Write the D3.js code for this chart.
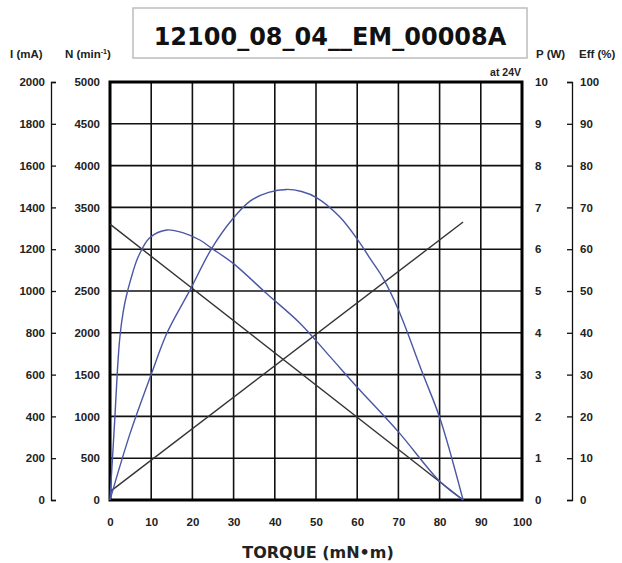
<!DOCTYPE html>
<html>
<head>
<meta charset="utf-8">
<script src="https://cdn.jsdelivr.net/npm/d3@7"></script>
<style>
  body { margin: 0; background: #fff; }
  .tick text { font-family: "Liberation Sans", Arial, sans-serif; font-weight: bold; font-size: 11.5px; fill: #222; }
  .hdr { font-family: "Liberation Sans", Arial, sans-serif; font-weight: bold; font-size: 11.5px; fill: #222; }
</style>
</head>
<body>
<div id="chart-area"></div>
<script>
// values
var title = "12100_08_04__EM_00008A";

var speedTorque = [0, 85.7];
var speedVals = [3300, 0];          // N (min-1)

var currentTorque = [0, 85.7];
var currentVals = [40, 1330];       // I (mA)

var powerTorque = [0, 4.9, 10.1, 13.8, 19.4, 24.7, 29.9, 34, 38.5, 42.9, 46.5, 50.2, 55.8, 60.3, 63.1, 66.3, 70, 76, 80.1, 85.7];
var powerVals   = [0, 1.6, 3.03, 3.99, 5.02, 6.02, 6.74, 7.15, 7.36, 7.43, 7.38, 7.23, 6.77, 6.2, 5.78, 5.3, 4.55, 3.0, 1.95, 0];

var effTorque = [0, 0.6, 1.2, 1.8, 2.4, 3.2, 3.9, 4.9, 6.9, 9.7, 13.8, 17.8, 21.8, 24.7, 29.9, 38, 46.1, 53.4, 59.9, 70, 80.1, 85.7];
var effVals   = [0, 10, 20, 31, 39, 45, 48.5, 52.3, 58.3, 62.8, 64.6, 63.9, 62.2, 60.2, 56.6, 49.4, 42.3, 34.3, 27.1, 16.3, 4.4, 0];

var torqueTicks = [0, 10, 20, 30, 40, 50, 60, 70, 80, 90, 100];

var W = 622, H = 563;
var plotL = 110, plotR = 522, plotT = 82, plotB = 500;

var svg = d3.select("#chart-area").append("svg")
    .attr("width", W)
    .attr("height", H);

// SCALES
var x = d3.scaleLinear().domain([0, 100]).range([plotL, plotR]);
var yN = d3.scaleLinear().domain([0, 5000]).range([plotB, plotT]);
var yI = d3.scaleLinear().domain([0, 2000]).range([plotB, plotT]);
var yP = d3.scaleLinear().domain([0, 10]).range([plotB, plotT]);
var yE = d3.scaleLinear().domain([0, 100]).range([plotB, plotT]);
var fmt = d3.format("d");

// title box
svg.append("rect")
    .attr("x", 133).attr("y", 8)
    .attr("width", 394).attr("height", 50)
    .attr("fill", "#fff")
    .attr("stroke", "#bdbdbd")
    .attr("stroke-width", 1.5);

svg.append("text")
    .attr("x", 330).attr("y", 45)
    .attr("text-anchor", "middle")
    .style("font-family", "'DejaVu Sans', Verdana, sans-serif")
    .style("font-weight", "bold")
    .style("font-size", "24px")
    .style("fill", "#111")
    .text(title);

// GRID
var grid = svg.append("g").attr("stroke", "#111").attr("stroke-width", 1.6);
grid.selectAll(".vline")
    .data(torqueTicks.slice(1, -1))
    .enter().append("line")
    .attr("x1", function(d) { return x(d); })
    .attr("x2", function(d) { return x(d); })
    .attr("y1", plotT).attr("y2", plotB);
grid.selectAll(".hline")
    .data(yN.ticks(10).slice(1, -1))
    .enter().append("line")
    .attr("x1", plotL).attr("x2", plotR)
    .attr("y1", function(d) { return yN(d); })
    .attr("y2", function(d) { return yN(d); });

svg.append("rect")
    .attr("x", plotL).attr("y", plotT)
    .attr("width", plotR - plotL).attr("height", plotB - plotT)
    .attr("fill", "none")
    .attr("stroke", "#000")
    .attr("stroke-width", 3);

// AXES
svg.append("g")
    .attr("transform", "translate(0," + (plotB + 12) + ")")
    .call(d3.axisBottom(x).tickValues(torqueTicks).tickFormat(fmt).tickSize(0).tickPadding(6))
    .call(function(g) { g.select(".domain").remove(); });

svg.append("g")
    .attr("transform", "translate(" + plotL + ",0)")
    .call(d3.axisLeft(yN).ticks(10).tickFormat(fmt).tickSize(0).tickPadding(10))
    .call(function(g) { g.select(".domain").remove(); });

svg.append("g")
    .attr("transform", "translate(51,0)")
    .call(d3.axisLeft(yI).ticks(10).tickFormat(fmt).tickSizeInner(-5).tickSizeOuter(-5).tickPadding(6))
    .call(function(g) { g.selectAll("path, line").attr("stroke", "#111").attr("stroke-width", 1.3); });

svg.append("g")
    .attr("transform", "translate(" + plotR + ",0)")
    .call(d3.axisRight(yP).ticks(10).tickFormat(fmt).tickSize(0).tickPadding(13))
    .call(function(g) { g.select(".domain").remove(); });

svg.append("g")
    .attr("transform", "translate(572,0)")
    .call(d3.axisRight(yE).ticks(10).tickFormat(fmt).tickSizeInner(-5).tickSizeOuter(-5).tickPadding(8))
    .call(function(g) { g.selectAll("path, line").attr("stroke", "#111").attr("stroke-width", 1.3); });

// headers
svg.append("text").attr("class", "hdr").attr("x", 10).attr("y", 58).text("I (mA)");
var nh = svg.append("text").attr("class", "hdr").attr("x", 65).attr("y", 58).text("N (min");
nh.append("tspan").attr("dy", -4).style("font-size", "7px").text("-1");
nh.append("tspan").attr("dy", 4).text(")");
svg.append("text").attr("class", "hdr").attr("x", 536).attr("y", 58).text("P (W)");
svg.append("text").attr("class", "hdr").attr("x", 579).attr("y", 58).text("Eff (%)");
svg.append("text").attr("class", "hdr").attr("x", 521).attr("y", 76)
    .attr("text-anchor", "end").style("font-size", "10.5px").text("at 24V");

svg.append("text")
    .attr("x", 318).attr("y", 558)
    .attr("text-anchor", "middle")
    .style("font-family", "'DejaVu Sans', Verdana, sans-serif")
    .style("font-weight", "bold")
    .style("font-size", "16px")
    .style("fill", "#222")
    .text("TORQUE (mN\u2022m)");

// LINES
function pairs(xs, ys) {
    return xs.map(function(d, i) { return [d, ys[i]]; });
}

var lineN = d3.line().x(function(d) { return x(d[0]); }).y(function(d) { return yN(d[1]); });
var lineI = d3.line().x(function(d) { return x(d[0]); }).y(function(d) { return yI(d[1]); });
var lineP = d3.line().x(function(d) { return x(d[0]); }).y(function(d) { return yP(d[1]); }).curve(d3.curveCatmullRom.alpha(0.5));
var lineE = d3.line().x(function(d) { return x(d[0]); }).y(function(d) { return yE(d[1]); }).curve(d3.curveCatmullRom.alpha(0.5));

svg.append("path")
    .attr("d", lineN(pairs(speedTorque, speedVals)))
    .attr("fill", "none").attr("stroke", "#333").attr("stroke-width", 1.4);

svg.append("path")
    .attr("d", lineI(pairs(currentTorque, currentVals)))
    .attr("fill", "none").attr("stroke", "#333").attr("stroke-width", 1.4);

svg.append("path")
    .attr("d", lineP(pairs(powerTorque, powerVals)))
    .attr("fill", "none").attr("stroke", "#4a56a6").attr("stroke-width", 1.4);

svg.append("path")
    .attr("d", lineE(pairs(effTorque, effVals)))
    .attr("fill", "none").attr("stroke", "#4a56a6").attr("stroke-width", 1.4);
</script>
</body>
</html>
